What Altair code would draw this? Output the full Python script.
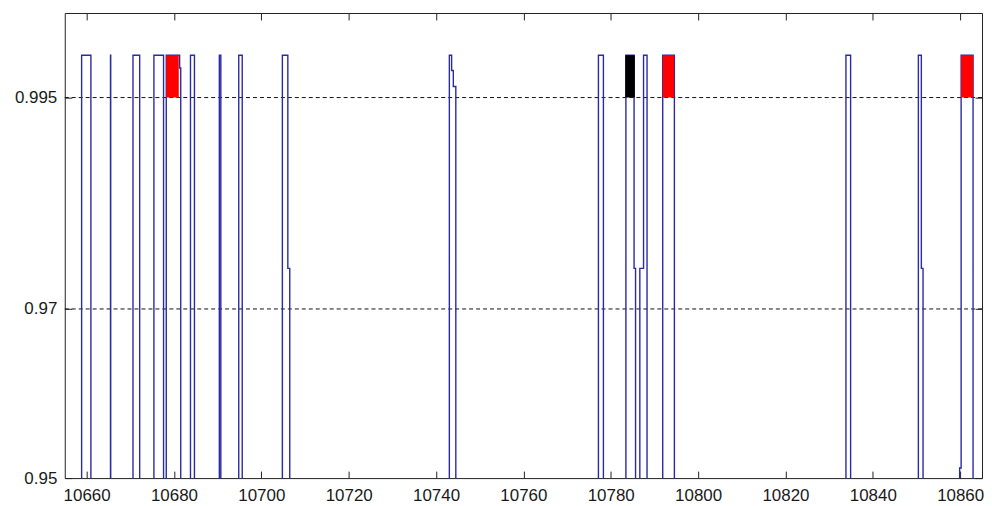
import altair as alt
import pandas as pd

LOW = 0.90  # signal floor (below the visible range, clipped)

# step-line vertices
line_x = [10655.0,
          10658.86, 10658.86, 10660.98, 10660.98,
          10665.47, 10665.47, 10665.52, 10665.52,
          10670.62, 10670.62, 10672.15, 10672.15,
          10675.41, 10675.41, 10677.62, 10677.62,
          10678.24, 10678.24, 10681.30, 10681.30, 10681.55, 10681.55,
          10683.78, 10683.78, 10684.69, 10684.69,
          10690.39, 10690.39, 10690.73, 10690.73,
          10694.83, 10694.83, 10695.63, 10695.63,
          10704.82, 10704.82, 10706.07, 10706.07, 10706.51, 10706.51,
          10743.05, 10743.05, 10743.57, 10743.57, 10743.96, 10743.96, 10744.53, 10744.53,
          10777.18, 10777.18, 10778.32, 10778.32,
          10783.47, 10783.47, 10785.34, 10785.34, 10785.68, 10785.68,
          10786.66, 10786.66, 10787.51, 10787.51, 10788.31, 10788.31,
          10791.90, 10791.90, 10794.57, 10794.57,
          10833.85, 10833.85, 10834.92, 10834.92,
          10850.43, 10850.43, 10851.11, 10851.11, 10851.50, 10851.50,
          10859.88, 10859.88, 10860.22, 10860.22, 10862.95, 10862.95,
          10865.0]
line_y = [LOW,
          LOW, 1.0, 1.0, LOW,
          LOW, 1.0, 1.0, LOW,
          LOW, 1.0, 1.0, LOW,
          LOW, 1.0, 1.0, LOW,
          LOW, 1.0, 1.0, 0.9985, 0.9985, LOW,
          LOW, 1.0, 1.0, LOW,
          LOW, 1.0, 1.0, LOW,
          LOW, 1.0, 1.0, LOW,
          LOW, 1.0, 1.0, 0.9748, 0.9748, LOW,
          LOW, 1.0, 1.0, 0.9982, 0.9982, 0.9963, 0.9963, LOW,
          LOW, 1.0, 1.0, LOW,
          LOW, 1.0, 1.0, 0.9748, 0.9748, LOW,
          LOW, 0.9748, 0.9748, 1.0, 1.0, LOW,
          LOW, 1.0, 1.0, LOW,
          LOW, 1.0, 1.0, LOW,
          LOW, 1.0, 1.0, 0.9748, 0.9748, LOW,
          LOW, 0.9512, 0.9512, 1.0, 1.0, LOW,
          LOW]

# highlighted blocks
block_start = [10678.24, 10783.33, 10791.90, 10860.22]
block_end = [10681.10, 10785.52, 10794.50, 10863.00]
block_low = [0.995, 0.995, 0.995, 0.995]
block_high = [1.0, 1.0, 1.0, 1.0]
block_color = ["#ff0000", "#000000", "#ff0000", "#ff0000"]

x_ticks = [10660, 10680, 10700, 10720, 10740, 10760, 10780, 10800, 10820, 10840, 10860]
y_ticks = [0.95, 0.97, 0.995]
grid_y = [0.97, 0.995]
X_DOMAIN = [10655, 10865]
Y_DOMAIN = [0.95, 1.005]

line_df = pd.DataFrame({"i": range(len(line_x)), "x": line_x, "y": line_y})
block_df = pd.DataFrame({"x": block_start, "x2": block_end, "y": block_low,
                         "y2": block_high, "c": block_color})
grid_df = pd.DataFrame({"g": grid_y})

xs = alt.Scale(domain=X_DOMAIN, nice=False, zero=False)
ys = alt.Scale(domain=Y_DOMAIN, nice=False, zero=False)

FONT = "Liberation Sans"
TXT = "#1a1a1a"

common_axis = dict(offset=-7, tickSize=7, domain=False, grid=False, title=None,
                   tickColor="#222222", tickWidth=1, labelFont=FONT, labelFontSize=17,
                   labelColor=TXT)

grid = alt.Chart(grid_df).mark_rule(color="#111111", strokeWidth=1, strokeDash=[4, 3]).encode(
    y=alt.Y("g:Q", scale=ys, axis=None)
)

line = alt.Chart(line_df).mark_line(color="#2a2aa6", strokeWidth=1.4, clip=True).encode(
    x=alt.X("x:Q", scale=xs,
            axis=alt.Axis(orient="bottom", values=x_ticks, format="d", labelPadding=9,
                          **common_axis)),
    y=alt.Y("y:Q", scale=ys,
            axis=alt.Axis(orient="left", values=y_ticks, format=".3~g", labelPadding=8,
                          **common_axis)),
    order=alt.Order("i:Q"),
)

blocks = alt.Chart(block_df).mark_rect(clip=True).encode(
    x=alt.X("x:Q", scale=xs,
            axis=alt.Axis(orient="top", values=x_ticks, labels=False, **common_axis)),
    x2="x2:Q",
    y=alt.Y("y:Q", scale=ys,
            axis=alt.Axis(orient="right", values=y_ticks, labels=False, **common_axis)),
    y2="y2:Q",
    color=alt.Color("c:N", scale=None),
)

chart = (
    alt.layer(grid, line, blocks)
    .resolve_axis(x="independent", y="independent")
    .properties(
        width=921,
        height=467,
        padding={"left": 57, "top": 4, "right": 2, "bottom": 26},
        autosize=alt.AutoSizeParams(type="none"),
        background="white",
    )
    .configure_view(stroke="#222222", strokeWidth=1)
)

chart.save("out.html", embed_options={"renderer": "svg", "actions": False})
